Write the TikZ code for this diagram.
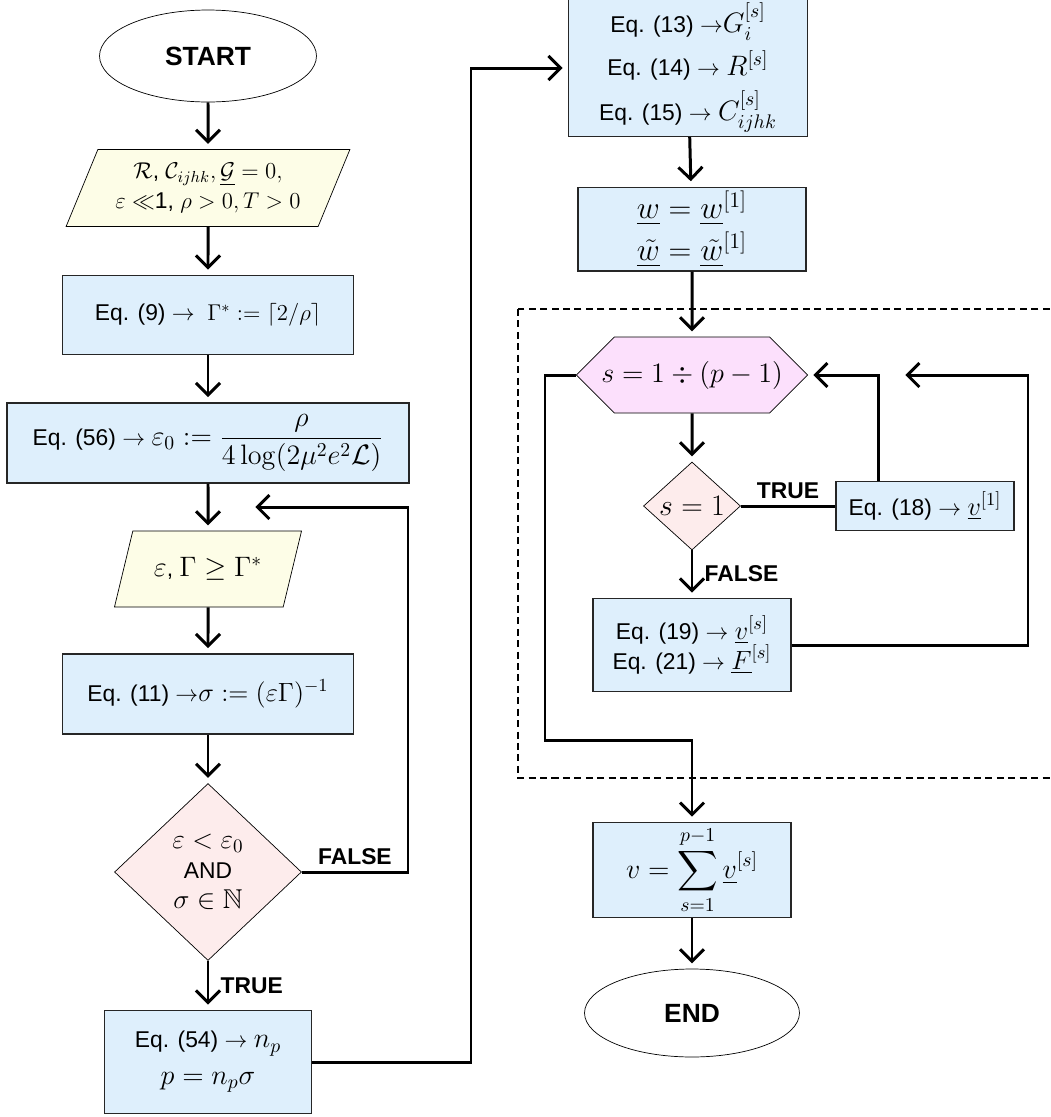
\RequirePackage{fix-cm}
\documentclass[tikz,border=0pt]{standalone}
\usepackage{amsmath, amssymb}
\usepackage[no-math]{fontspec}
\setmainfont{Liberation Sans}
\usepackage{tikz}
\usepackage{xcolor}
\usetikzlibrary{shapes.geometric,shapes.symbols,arrows.meta,calc}

\definecolor{boxblue}{RGB}{222,239,252}
\definecolor{inyellow}{RGB}{253,253,231}
\definecolor{condpink}{RGB}{253,236,236}
\definecolor{looppink}{RGB}{252,224,252}

% math set a little larger than the labels
\newcommand{\mth}[2][16]{{\fontsize{#1}{#1}\selectfont$#2$}}

\begin{document}
\begin{tikzpicture}[x=0.02cm, y=-0.02cm,
        every node/.style={font=\fontsize{13}{16}\selectfont},
        terminal/.style={ellipse, draw, thin, minimum width=4.34cm, minimum height=1.84cm,
                         font=\fontsize{15}{18}\selectfont\bfseries},
        inbox/.style={trapezium, trapezium left angle=63, trapezium right angle=117,
                      trapezium stretches=true, draw, fill=inyellow, align=center, inner sep=1pt},
        eqbox/.style={rectangle, draw=black!85, line width=0.8pt, fill=boxblue, align=center,
                      inner sep=2pt},
        test/.style={diamond, draw, fill=condpink, align=center, inner sep=0pt},
        loophex/.style={signal, signal to=west and east, signal pointer angle=90, draw,
                        fill=looppink, inner ysep=0pt, inner xsep=-7.5pt},
        arr/.style={line width=1.7pt, -{Straight Barb[length=2.4mm,width=4.8mm]}, shorten >=3pt},
        line/.style={line width=1.7pt},
        lbl/.style={font=\fontsize{13}{16}\selectfont\bfseries}
    ]
        \useasboundingbox (0,0) rectangle (1051,1117);

        % Loop frame
        \draw[dashed, dash pattern=on 4pt off 2.5pt, line width=0.6pt] (518,309) rectangle (1080,778);

        % Left column
        \node[terminal] (start) at (208,56) {START};
        \node[inbox, minimum width=5.68cm, minimum height=1.54cm] (params) at (208,188)
            {$\mathcal{R}$, $\mathcal{C}_{ijhk}, \underline{\mathcal{G}} = 0,$\\[1pt]
             $\varepsilon \ll$1, $\rho > 0, T > 0$};
        \node[eqbox, minimum width=5.82cm, minimum height=1.58cm] (eqnine) at (208,315)
            {Eq. (9) $\rightarrow\ \Gamma^* := \lceil 2/\rho \rceil$};
        \node[eqbox, minimum width=8.04cm, minimum height=1.6cm] (eqfiftysix) at (208,443)
            {Eq. (56) $\rightarrow$\ \mth{\varepsilon_0 := \dfrac{\rho}{4\log(2\mu^2e^2\mathcal{L})}}};
        \node[inbox, minimum width=3.76cm, minimum height=1.52cm] (tol) at (208,569)
            {\mth{\varepsilon}, \mth{\Gamma \geq \Gamma^*}};
        \node[eqbox, minimum width=5.82cm, minimum height=1.6cm] (eqeleven) at (208,694)
            {Eq. (11) $\rightarrow$\mth[15]{\sigma := (\varepsilon\Gamma)^{-1}}};
        \node[test, minimum width=3.74cm, minimum height=3.54cm] (cond) at (208,872)
            {\mth[15.5]{\varepsilon < \varepsilon_0}\\[1pt] AND\\[1pt] \mth[15.5]{\sigma \in \mathbb{N}}};
        \node[eqbox, minimum width=4.14cm, minimum height=2.06cm] (eqfiftyfour) at (208,1062)
            {Eq. (54) $\rightarrow$ \mth{n_p}\\[5pt] \mth{p = n_p\sigma}};

        % Right column
        \node[eqbox, minimum width=4.78cm, minimum height=2.7cm] (eqthirteen) at (688,68)
            {Eq. (13) $\rightarrow$\mth{G_i^{[s]}}\\[5pt] Eq. (14) $\rightarrow$ \mth{R^{[s]}}\\[5pt]
             Eq. (15) $\rightarrow$ \mth{C_{ijhk}^{[s]}}};
        \node[eqbox, minimum width=4.56cm, minimum height=1.64cm] (winit) at (692,229)
            {\mth[18]{\underline{w} = \underline{w}^{[1]}}\\[3pt]
             \mth[18]{\underline{\tilde{w}} = \underline{\tilde{w}}^{[1]}}};
        \node[loophex, minimum width=4.56cm, minimum height=1.52cm] (loop) at (692,375)
            {\mth{s = 1 \div (p-1)}};
        \node[test, minimum width=1.94cm, minimum height=1.76cm] (isone) at (692,506) {\mth[17]{s = 1}};
        \node[eqbox, minimum width=3.56cm, minimum height=0.98cm] (eqeighteen) at (925,506)
            {Eq. (18) $\rightarrow$ \mth[15]{\underline{v}^{[1]}}};
        \node[eqbox, minimum width=3.96cm, minimum height=1.86cm] (eqnineteen) at (692,645)
            {Eq. (19) $\rightarrow$ \mth[15]{\underline{v}^{[s]}}\\[-1pt]
             Eq. (21) $\rightarrow$ \mth[15]{\underline{F}^{[s]}}};
        \node[eqbox, minimum width=3.96cm, minimum height=1.8cm] (sum) at (692,870)
            {\mth{v = \displaystyle\sum_{s=1}^{p-1} \underline{v}^{[s]}}};
        \node[terminal, minimum width=4.3cm, minimum height=1.76cm] (end) at (692,1013) {END};

        % Turning points
        \coordinate (backin) at (250,507);
        \coordinate (backturn) at (408,507);
        \coordinate (jump) at (471,1062);
        \coordinate (loopin) at (900,375);
        \coordinate (outerturn) at (1028,375);
        \coordinate (exitleft) at (545,375);
        \coordinate (exitlow) at (545,740);

        % Left arrows
        \draw[arr] (start) -- (params);
        \draw[arr] (params) -- (eqnine);
        \draw[arr] (eqnine) -- (eqfiftysix);
        \draw[arr] (eqfiftysix) -- (tol);
        \draw[arr] (tol) -- (eqeleven);
        \draw[arr] (eqeleven) -- (cond);
        \draw[arr] (cond) -- node[right=3pt, lbl] {TRUE} (eqfiftyfour);
        \draw[arr] (cond.east) -| node[pos=0.25, above, lbl] {FALSE} (backturn) -- (backin);
        \draw[arr] (eqfiftyfour.east) -- (jump) |- (eqthirteen.west);

        % Right arrows
        \draw[arr] (eqthirteen) -- (winit);
        \draw[arr] (winit) -- (loop);
        \draw[arr] (loop) -- (isone);
        \draw[line] (isone) -- node[above, lbl] {TRUE} (eqeighteen);
        \draw[arr] ([xshift=-0.94cm]eqeighteen.north) |- (loop.east);
        \draw[arr] (isone) -- node[right=3pt, lbl] {FALSE} (eqnineteen);
        \draw[arr] (eqnineteen.east) -| (outerturn) -- (loopin);
        \draw[arr] (loop.west) -- (exitleft) -- (exitlow) -| (sum.north);
        \draw[arr] (sum) -- (end);
    \end{tikzpicture}
\end{document}
